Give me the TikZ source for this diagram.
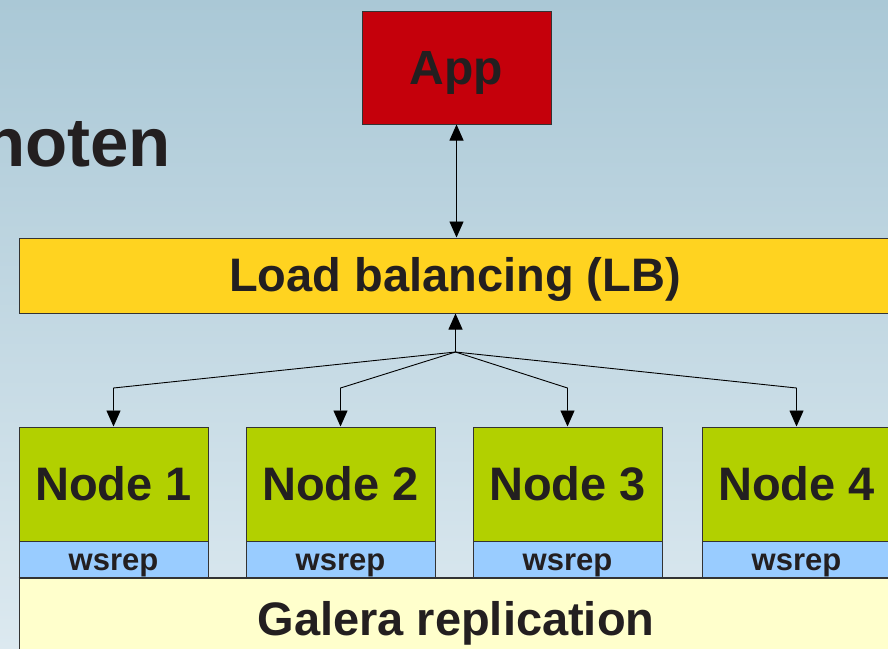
\documentclass[tikz,border=0pt]{standalone}
\usepackage{fontspec}
\setmainfont{Liberation Sans}
\usetikzlibrary{arrows.meta}
\definecolor{bgtop}{RGB}{170,200,214}
\definecolor{bgbot}{RGB}{220,233,240}
\definecolor{appred}{RGB}{197,0,11}
\definecolor{lbyellow}{RGB}{255,211,32}
\definecolor{nodegreen}{RGB}{178,208,0}
\definecolor{wsblue}{RGB}{153,204,255}
\definecolor{galyellow}{RGB}{255,255,204}
\definecolor{txt}{RGB}{35,31,32}
\begin{document}
\begin{tikzpicture}[x=1pt,y=-1pt,
  box/.style={draw=black!80,line width=1pt,rectangle,inner sep=0pt,text=txt,
    font=\fontsize{47}{56}\selectfont\bfseries,text height=33.7pt,text depth=0pt},
  nodebox/.style={box,fill=nodegreen,minimum width=189,minimum height=114},
  wsbox/.style={box,fill=wsblue,minimum width=189,minimum height=37,
    font=\fontsize{31}{36}\selectfont\bfseries,text height=22.2pt,text depth=0pt},
  lbl/.style={inner sep=0pt,text=txt,font=\fontsize{47}{56}\selectfont\bfseries,
    text height=33.7pt,text depth=0pt},
  arr/.style={draw=black,line width=0.9pt,-{Triangle[length=16pt,width=14pt]}},
  darr/.style={draw=black,line width=0.9pt,{Triangle[length=16pt,width=14pt]}-{Triangle[length=16pt,width=14pt]}}
]
\useasboundingbox (0,0) rectangle (888,648);
\clip (0,0) rectangle (888,648);
\shade[top color=bgtop,bottom color=bgbot] (0,0) rectangle (888,648);

% partial title
\node[anchor=base west,inner sep=0pt,text=txt,font=\fontsize{69}{80}\selectfont\bfseries] (title) at (-17,166) {noten};

% App
\node[box,fill=appred,minimum width=189,minimum height=113,
  font=\fontsize{48}{56}\selectfont\bfseries,text height=34.4pt] (app) at (456.5,67.5) {App};

% Load balancing
\node[box,fill=lbyellow,minimum width=885,minimum height=75] (lb) at (461.5,275.5) {};
\node[lbl] (lbT) at (455,274.5) {Load balancing (LB)};

% Galera
\node[box,fill=galyellow,minimum width=885,minimum height=90] (gal) at (461.5,623) {};
\node[lbl] (galT) at (456,619) {Galera replication};

% Nodes
\node[nodebox] (n1) at (113.5,484) {Node 1};
\node[nodebox] (n2) at (340.5,484) {Node 2};
\node[nodebox] (n3) at (567.5,484) {Node 3};
\node[nodebox] (n4) at (796.5,484) {Node 4};
\node[wsbox] (w1) at (113.5,559.5) {wsrep};
\node[wsbox] (w2) at (340.5,559.5) {wsrep};
\node[wsbox] (w3) at (567.5,559.5) {wsrep};
\node[wsbox] (w4) at (796.5,559.5) {wsrep};
\draw[draw=black!80,line width=1pt] (gal.north west) -- (gal.north east);

% connectors
\coordinate (j) at (455.5,352);
\coordinate (b1) at (113.5,388);
\coordinate (b2) at (340.5,388);
\coordinate (b3) at (567.5,388);
\coordinate (b4) at (796.5,388);
\draw[darr] (app.south) -- (app.south |- lb.north);
\draw[arr] (j) -- (j |- lb.south);
\draw[arr] (j) -- (b1) -- (n1.north);
\draw[arr] (j) -- (b2) -- (n2.north);
\draw[arr] (j) -- (b3) -- (n3.north);
\draw[arr] (j) -- (b4) -- (n4.north);
\end{tikzpicture}
\end{document}
